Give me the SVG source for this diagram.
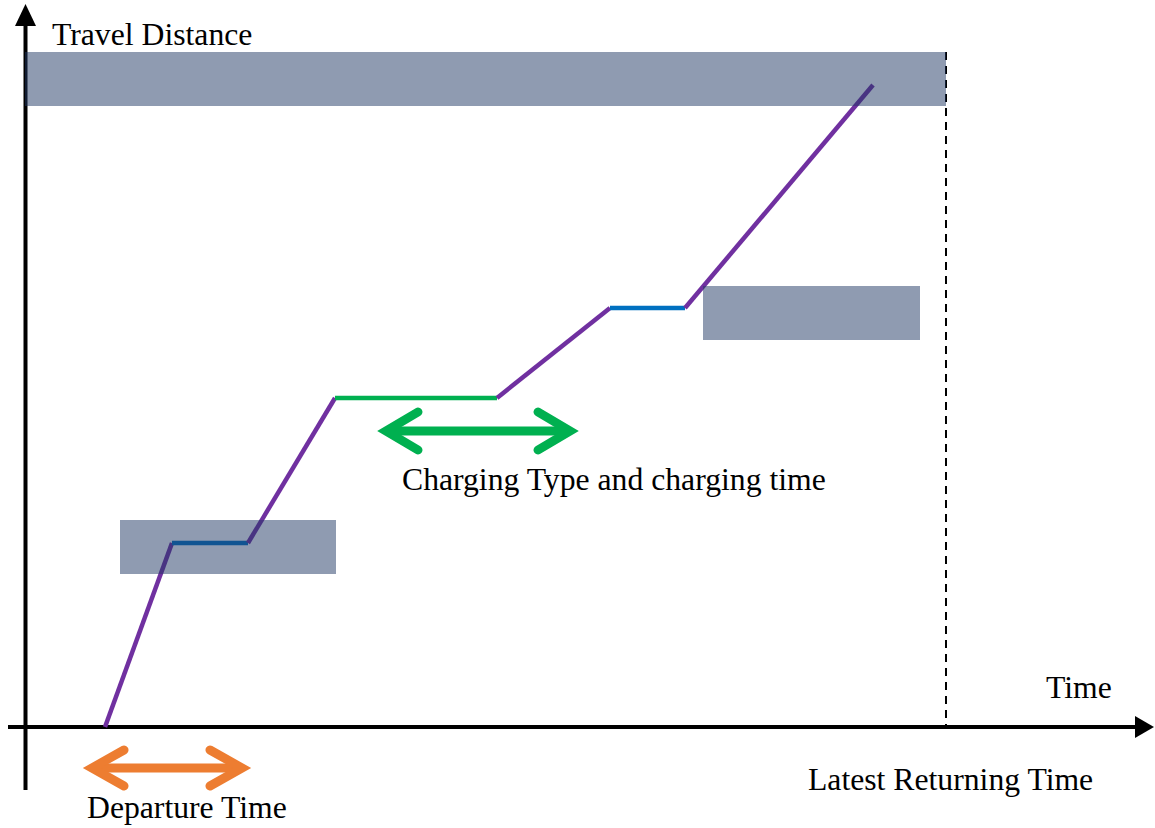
<svg xmlns="http://www.w3.org/2000/svg" width="1155" height="828" viewBox="0 0 1155 828">
<style>
.t{font-family:"Liberation Serif","Times New Roman",serif;font-size:31.7px;fill:#000}
.box{fill:#1f3864;fill-opacity:0.5}
.ax{stroke:#000;stroke-width:4;fill:none}
.seg{stroke-width:4.5;fill:none;stroke-linecap:butt;stroke-linejoin:round}
.p{stroke:#7030a0}
.dbl{stroke-width:9;fill:none;stroke-linecap:round;stroke-linejoin:miter}
</style>
<rect width="1155" height="828" fill="#fff"/>
<g id="connectors">
<line class="ax" x1="25.5" y1="790" x2="25.5" y2="22"/>
<polygon points="25.5,4 15,26 36,26" fill="#000"/>
<line class="ax" x1="8" y1="727" x2="1140" y2="727"/>
<polygon points="1154,727 1135,716 1135,738" fill="#000"/>
<line x1="946" y1="52" x2="946" y2="727" stroke="#000" stroke-width="2" stroke-dasharray="8,6"/>
<polyline class="seg p" points="105,727 172,543"/>
<polyline class="seg" stroke="#0070c0" points="172,543 248,543"/>
<polyline class="seg p" points="248,543 335,398"/>
<polyline class="seg" stroke="#00b050" points="335,398 497,398"/>
<polyline class="seg p" points="497,398 610,308"/>
<polyline class="seg" stroke="#0070c0" points="610,308 685,308"/>
<polyline class="seg p" points="685,308 873,85"/>
</g>
<g id="top-bar"><rect class="box" x="25" y="52" width="921" height="54"/></g>
<g id="box-low"><rect class="box" x="120" y="520" width="216" height="54"/></g>
<g id="box-mid"><rect class="box" x="703" y="286" width="217" height="54"/></g>
<g id="charging-arrow">
<line class="dbl" stroke="#00b050" x1="390" y1="431" x2="566" y2="431"/>
<polyline class="dbl" stroke="#00b050" points="418,412 386,431 418,450"/>
<polyline class="dbl" stroke="#00b050" points="538,412 570,431 538,450"/>
</g>
<g id="departure-arrow">
<line class="dbl" stroke="#ed7d31" x1="95" y1="768" x2="239" y2="768"/>
<polyline class="dbl" stroke="#ed7d31" points="124,750 92,768 124,786"/>
<polyline class="dbl" stroke="#ed7d31" points="210,750 242,768 210,786"/>
</g>
<text class="t" x="52" y="45">Travel Distance</text>
<text class="t" x="402" y="490">Charging Type and charging time</text>
<text class="t" x="87" y="818">Departure Time</text>
<text class="t" x="1046" y="698">Time</text>
<text class="t" x="808" y="790">Latest Returning Time</text>
</svg>
